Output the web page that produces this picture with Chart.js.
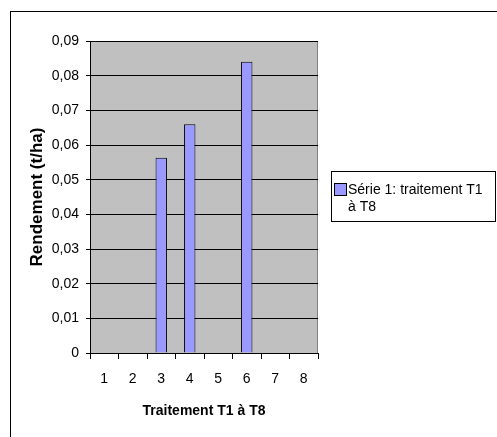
<!DOCTYPE html>
<html>
<head>
<meta charset="utf-8">
<script src="https://cdn.jsdelivr.net/npm/chart.js@4/dist/chart.umd.min.js"></script>
<style>
  html, body { margin: 0; padding: 0; background: #fff; }
  canvas { display: block; }
</style>
</head>
<body>
<canvas id="myChart" width="497" height="437"></canvas>
<script>
// Data
const categories = ['1', '2', '3', '4', '5', '6', '7', '8'];
const rendement = [null, null, 0.0563, 0.066, null, 0.084, null, null];
const seriesLabel = 'Série 1: traitement T1 à T8';
const xTitle = 'Traitement T1 à T8';
const yTitle = 'Rendement (t/ha)';

const FONT = 'Liberation Sans, Arial, sans-serif';

// Frame, gray plot area, legend box
const excelLook = {
    id: 'excelLook',
    beforeDraw: (chart) => {
        const ctx = chart.ctx;
        const a = chart.chartArea;
        ctx.save();
        ctx.fillStyle = '#fff';
        ctx.fillRect(0, 0, chart.width, chart.height);
        ctx.strokeStyle = '#000';
        ctx.lineWidth = 1;
        ctx.strokeRect(10.5, 11.5, 700, 700);
        ctx.fillStyle = '#c0c0c0';
        ctx.fillRect(a.left, a.top, a.right - a.left, a.bottom - a.top);
        ctx.strokeStyle = '#808080';
        ctx.strokeRect(a.left + 0.5, a.top + 0.5, a.right - a.left - 1, a.bottom - a.top);
        ctx.restore();
    },
    afterDraw: (chart) => {
        const ctx = chart.ctx;
        const ds = chart.data.datasets[0];
        ctx.save();
        ctx.strokeStyle = '#000';
        ctx.lineWidth = 1;
        ctx.strokeRect(331.5, 171.5, 164, 50);
        ctx.fillStyle = ds.backgroundColor;
        ctx.fillRect(334.5, 183.5, 12, 12);
        ctx.strokeRect(334.5, 183.5, 12, 12);
        ctx.fillStyle = '#000';
        ctx.font = '14px ' + FONT;
        ctx.textBaseline = 'middle';
        // wrap label into lines
        const words = ds.label.split(' ');
        const lines = [];
        let cur = '';
        words.forEach(w => {
            const test = cur ? cur + ' ' + w : w;
            if (ctx.measureText(test).width > 145 && cur) {
                lines.push(cur);
                cur = w;
            } else {
                cur = test;
            }
        });
        lines.push(cur);
        lines.forEach((l, i) => ctx.fillText(l, 348, 190 + i * 17));
        ctx.restore();
    }
};

const data = {
    labels: categories,
    datasets: [{
        label: seriesLabel,
        data: rendement,
        backgroundColor: '#9999ff',
        borderColor: '#000',
        borderWidth: 1,
        categoryPercentage: 0.4,
        barPercentage: 1
    }]
};

const config = {
    type: 'bar',
    data: data,
    plugins: [excelLook],
    options: {
        responsive: false,
        animation: false,
        devicePixelRatio: 1,
        layout: { padding: { left: 0, top: 41, right: 179, bottom: 0 } },
        plugins: {
            legend: { display: false },
            tooltip: { enabled: false }
        },
        scales: {
            x: {
                afterFit: (s) => { s.height = 84; },
                grid: { drawOnChartArea: false, color: '#000', tickLength: 6, offset: true },
                border: { color: '#000' },
                ticks: { color: '#000', font: { family: FONT, size: 14 }, padding: 12, maxRotation: 0 },
                title: {
                    display: true, text: xTitle, color: '#000',
                    font: { family: FONT, size: 14, weight: 'bold' },
                    padding: { top: 0, bottom: 17 }
                }
            },
            y: {
                min: 0,
                max: 0.09,
                afterFit: (s) => { s.width = 90; },
                grid: { color: '#000', tickLength: 4 },
                border: { color: '#000' },
                ticks: {
                    stepSize: 0.01,
                    color: '#000',
                    font: { family: FONT, size: 14 },
                    padding: 7,
                    callback: (v) => v === 0 ? '0' : v.toFixed(2).replace('.', ',')
                },
                title: {
                    display: true, text: yTitle, color: '#000',
                    font: { family: FONT, size: 17, weight: 'bold' },
                    padding: { top: 27, bottom: 0 }
                }
            }
        }
    }
};

const ctx = document.getElementById('myChart').getContext('2d');
const myChart = new Chart(ctx, config);
</script>
</body>
</html>
